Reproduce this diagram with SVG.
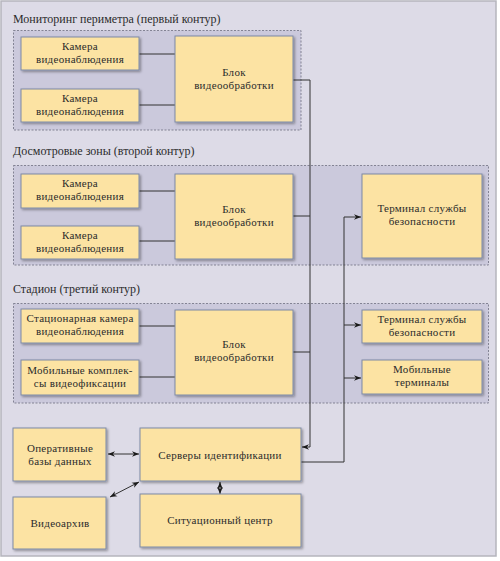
<svg xmlns="http://www.w3.org/2000/svg" width="500" height="561" viewBox="0 0 500 561">
<defs>
<filter id="sh" x="-10%" y="-10%" width="130%" height="130%">
<feDropShadow dx="1.5" dy="1.5" stdDeviation="0.8" flood-color="#000" flood-opacity="0.35"/>
</filter>
<marker id="ah" viewBox="0 0 10 10" refX="10" refY="5" markerWidth="7" markerHeight="7" orient="auto-start-reverse" markerUnits="userSpaceOnUse">
<path d="M0,1 L10,5 L0,9 L3,5 Z" fill="#1a1a1a"/>
</marker>
</defs>
<style>
.node rect{fill:#fce3a3;stroke:#7d8aa6;stroke-width:1;filter:url(#sh)}
.node text{font-family:"Liberation Serif","DejaVu Serif",serif;font-size:11px;letter-spacing:0.3px;fill:#2b2b2b;text-anchor:middle}
.lbl{font-family:"Liberation Serif","DejaVu Serif",serif;font-size:12px;fill:#2b2b2b}
.grp{fill:#cbc9dc;stroke:#6e6e80;stroke-width:0.8;stroke-dasharray:2,1.5}
.c{fill:none;stroke:#333;stroke-width:1}
</style>
<rect x="0" y="0" width="500" height="561" fill="#ffffff"/>
<rect x="1" y="1" width="495" height="555" fill="#dddbe7" stroke="#b5b5bd" stroke-width="1.5"/>
<g id="groups">
<text class="lbl" x="13" y="23">Мониторинг периметра (первый контур)</text>
<rect class="grp" x="13.5" y="30.5" width="287.5" height="99.5"/>
<text class="lbl" x="13" y="155">Досмотровые зоны (второй контур)</text>
<rect class="grp" x="13.5" y="165.5" width="475" height="99.5"/>
<text class="lbl" x="13" y="293">Стадион (третий контур)</text>
<rect class="grp" x="13.5" y="303.5" width="475" height="99.5"/>
</g>
<g id="connectors">
<path class="c" d="M139,54 H175 M139,105 H175"/>
<path class="c" d="M139,191 H175 M139,241 H175"/>
<path class="c" d="M139,326 H175 M139,377 H175"/>
<path class="c" d="M293,80 H310 V447 H302" marker-end="url(#ah)"/>
<path class="c" d="M293,216 H310 M293,352 H310"/>
<path class="c" d="M301,462 H344 V217 H361" marker-end="url(#ah)"/>
<path class="c" d="M344,325 H361" marker-end="url(#ah)"/>
<path class="c" d="M344,378 H361" marker-end="url(#ah)"/>
<path class="c" d="M108,454 H139" marker-start="url(#ah)" marker-end="url(#ah)"/>
<path class="c" d="M110,497 L139,482" marker-start="url(#ah)" marker-end="url(#ah)"/>
<path class="c" d="M220,482 V494" marker-start="url(#ah)" marker-end="url(#ah)"/>
</g>
<g id="cam1" class="node"><rect x="21" y="37" width="118" height="33"/><text x="80" y="50">Камера</text><text x="80" y="62.5">видеонаблюдения</text></g>
<g id="cam2" class="node"><rect x="21" y="89" width="118" height="33"/><text x="80" y="102">Камера</text><text x="80" y="114.5">видеонаблюдения</text></g>
<g id="blk1" class="node"><rect x="175" y="36" width="118" height="86"/><text x="234" y="76">Блок</text><text x="234" y="88.5">видеообработки</text></g>
<g id="cam3" class="node"><rect x="21" y="174" width="118" height="34"/><text x="80" y="187">Камера</text><text x="80" y="199.5">видеонаблюдения</text></g>
<g id="cam4" class="node"><rect x="21" y="226" width="118" height="33"/><text x="80" y="239">Камера</text><text x="80" y="251.5">видеонаблюдения</text></g>
<g id="blk2" class="node"><rect x="175" y="174" width="118" height="85"/><text x="234" y="213">Блок</text><text x="234" y="225.5">видеообработки</text></g>
<g id="term1" class="node"><rect x="362" y="174" width="120" height="84"/><text x="422" y="212">Терминал службы</text><text x="422" y="224.5">безопасности</text></g>
<g id="cam5" class="node"><rect x="21" y="309" width="118" height="34"/><text x="80" y="322">Стационарная камера</text><text x="80" y="334.5">видеонаблюдения</text></g>
<g id="cam6" class="node"><rect x="21" y="360" width="118" height="35"/><text x="80" y="374">Мобильные комплек-</text><text x="80" y="386.5">сы видеофиксации</text></g>
<g id="blk3" class="node"><rect x="175" y="310" width="118" height="85"/><text x="234" y="348">Блок</text><text x="234" y="360.5">видеообработки</text></g>
<g id="term2" class="node"><rect x="362" y="310" width="120" height="33"/><text x="422" y="323">Терминал службы</text><text x="422" y="335.5">безопасности</text></g>
<g id="mob" class="node"><rect x="362" y="360" width="120" height="34"/><text x="422" y="373">Мобильные</text><text x="422" y="385.5">терминалы</text></g>
<g id="db" class="node"><rect x="13" y="428" width="93" height="53"/><text x="60" y="452">Оперативные</text><text x="60" y="464.5">базы данных</text></g>
<g id="srv" class="node"><rect x="140" y="428" width="161" height="53"/><text x="220" y="459">Серверы идентификации</text></g>
<g id="arch" class="node"><rect x="13" y="497" width="93" height="52"/><text x="60" y="527">Видеоархив</text></g>
<g id="sit" class="node"><rect x="140" y="494" width="161" height="53"/><text x="220" y="524">Ситуационный центр</text></g>
</svg>
